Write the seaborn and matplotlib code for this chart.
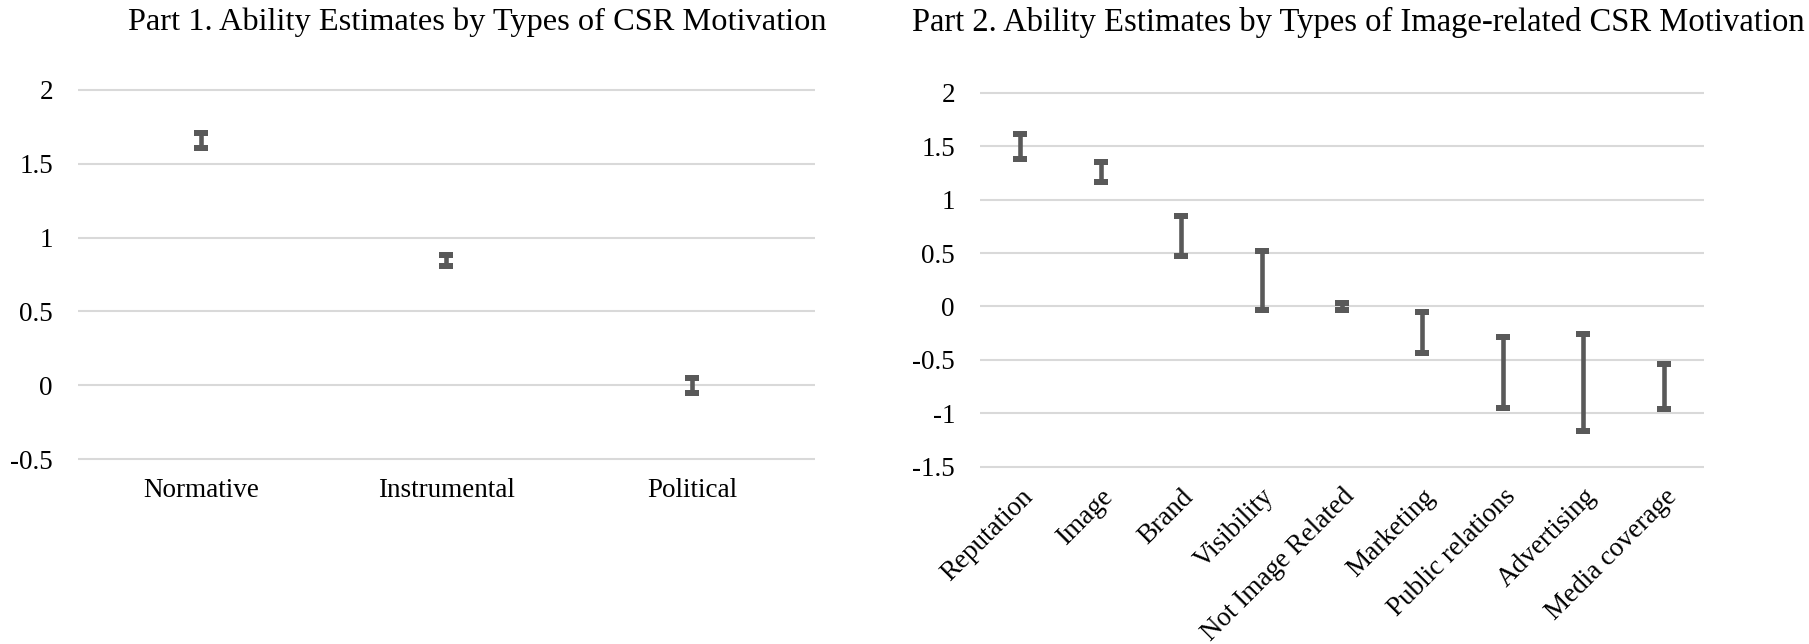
import matplotlib
matplotlib.use("Agg")
import matplotlib.pyplot as plt
import seaborn as sns
import pandas as pd
import numpy as np

# ---- data ----
part1_categories = ["Normative", "Instrumental", "Political"]
part1_high = [1.71, 0.88, 0.05]
part1_low = [1.61, 0.81, -0.055]

part2_categories = ["Reputation", "Image", "Brand", "Visibility", "Not Image Related",
                    "Marketing", "Public relations", "Advertising", "Media coverage"]
part2_high = [1.62, 1.35, 0.845, 0.52, 0.03, -0.05, -0.29, -0.26, -0.535]
part2_low = [1.38, 1.17, 0.47, -0.035, -0.03, -0.435, -0.955, -1.165, -0.965]

part1_yticks = [-0.5, 0, 0.5, 1, 1.5, 2]
part2_yticks = [-1.5, -1, -0.5, 0, 0.5, 1, 1.5, 2]

title1 = "Part 1. Ability Estimates by Types of CSR Motivation"
title2 = "Part 2. Ability Estimates by Types of Image-related CSR Motivation"

sns.set_theme(style="white")
plt.rcParams["font.family"] = ["Liberation Serif", "DejaVu Serif"]

W, H = 1809, 644
fig = plt.figure(figsize=(W / 100, H / 100), dpi=100)

BAR = "#595959"
GRID = "#d9d9d9"
cap_marker = [(-1, -0.4), (1, -0.4), (1, 0.4), (-1, 0.4), (-1, -0.4)]


def px_axes(x0, x1, ytop, ybot):
    return fig.add_axes([x0 / W, 1 - ybot / H, (x1 - x0) / W, (ybot - ytop) / H])


def draw(ax, cats, lows, highs, yticks, ylim, cap_size):
    df = pd.DataFrame({
        "cat": cats * 2,
        "val": list(lows) + list(highs),
    })
    sns.pointplot(data=df, x="cat", y="val", order=cats, errorbar=("pi", 100),
                  estimator="mean", color=BAR, linestyle="none", markersize=0,
                  capsize=0, err_kws={"linewidth": 3.3, "solid_capstyle": "butt"},
                  ax=ax, zorder=3)
    sns.stripplot(data=df, x="cat", y="val", order=cats, jitter=False,
                  color=BAR, marker=cap_marker, size=cap_size, linewidth=0,
                  ax=ax, zorder=4)
    ax.set_ylim(*ylim)
    ax.set_xlim(-0.5, len(cats) - 0.5)
    ax.set_yticks(yticks)
    ax.set_yticklabels([f"{t:g}" for t in yticks])
    ax.yaxis.grid(True, color=GRID, linewidth=1.5)
    ax.xaxis.grid(False)
    ax.set_axisbelow(True)
    for s in ax.spines.values():
        s.set_visible(False)
    ax.set_xlabel("")
    ax.set_ylabel("")
    ax.tick_params(axis="both", length=0, labelsize=19.5, colors="black")
    ax.tick_params(axis="y", pad=18)


ax1 = px_axes(78, 815, 75.2, 473.8)
draw(ax1, part1_categories, part1_low, part1_high, part1_yticks, (-0.6, 2.1), 9.5)
ax1.tick_params(axis="x", pad=3)

ax2 = px_axes(980, 1704, 82.3, 477.2)
draw(ax2, part2_categories, part2_low, part2_high, part2_yticks, (-1.6, 2.1), 9.5)
plt.setp(ax2.get_xticklabels(), rotation=45, ha="right", rotation_mode="anchor")
ax2.tick_params(axis="x", pad=5)

fig.text(477 / W, 1 - 22 / H, title1, ha="center", va="center", fontsize=23.3, color="black")
fig.text(1358 / W, 1 - 22 / H, title2, ha="center", va="center", fontsize=23.5, color="black")

fig.savefig("out.png", dpi=100, facecolor="white")
